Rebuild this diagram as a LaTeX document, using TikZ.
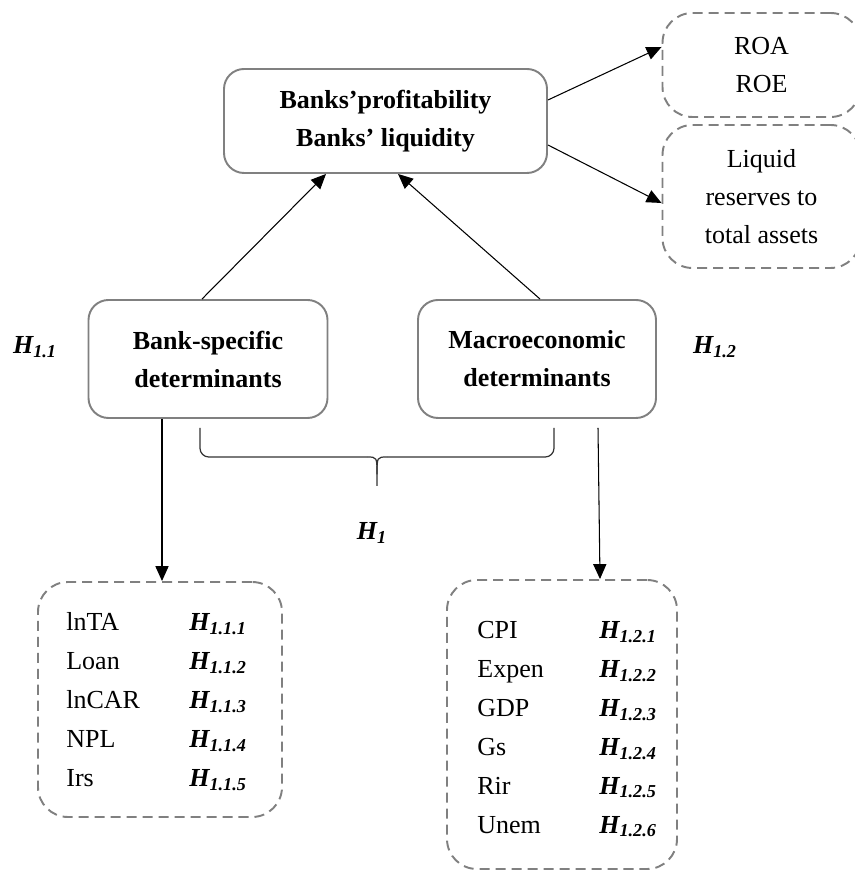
\documentclass[tikz,border=0pt]{standalone}
\usepackage{fontspec}
\setmainfont{Liberation Serif}
\usetikzlibrary{arrows.meta}

\newcommand{\hname}[1]{\textbf{\textit{H\textsubscript{#1}}}}

\tikzset{every node/.style={font=\fontsize{14.8}{21.6}\selectfont, inner sep=0pt}}
\tikzset{solidbox/.style={draw=gray, line width=1.1pt, rounded corners=0.4cm, align=center}}
\tikzset{dashbox/.style={draw=gray, line width=1.1pt, dash pattern=on 5.7pt off 3.4pt, rounded corners=0.6cm, align=center}}
\tikzset{conn/.style={-{Triangle[length=8.5pt,width=7.5pt]}, line width=0.6pt}}

\begin{document}
\begin{tikzpicture}
			\useasboundingbox (0,0) rectangle (17.08,17.44);

			% Top box
			\node[solidbox, minimum width=6.46cm, minimum height=2.08cm] (top) at (7.71,15.02) {\bfseries Banks’profitability\\ \bfseries Banks’ liquidity};

			% Measures on the right
			\node[dashbox, minimum width=3.96cm, minimum height=2.08cm] (roa) at (15.23,16.14) {ROA\\ROE};
			\node[dashbox, minimum width=3.96cm, minimum height=2.86cm] (liq) at (15.23,13.51) {Liquid\\reserves to\\total assets};

			% Determinants
			\node[solidbox, minimum width=4.78cm, minimum height=2.36cm] (bank) at (4.16,10.26) {\bfseries Bank-specific\\ \bfseries determinants};
			\node[solidbox, minimum width=4.76cm, minimum height=2.36cm] (macro) at (10.74,10.26) {\bfseries Macroeconomic\\ \bfseries determinants};

			% Hypothesis labels
			\node[anchor=base] (h11) at (0.70,10.36) {\hname{1.1}};
			\node[anchor=base] (h12) at (14.30,10.36) {\hname{1.2}};
			\node[anchor=base] (h1) at (7.44,6.64) {\hname{1}};

			% Variable boxes
			\node[dashbox, minimum width=4.88cm, minimum height=4.70cm] (lowleft) at (3.20,3.45) {};
			\node[dashbox, minimum width=4.60cm, minimum height=5.78cm] (lowright) at (11.24,2.95) {};

			% Rows of the left box
			\foreach \v/\h [count=\i from 0] in {lnTA/1.1.1, Loan/1.1.2, lnCAR/1.1.3, NPL/1.1.4, Irs/1.1.5}{
				\node[anchor=base west] (bv\i) at (1.32,4.82-0.78*\i) {\v};
				\node[anchor=base west] (bh\i) at (3.78,4.82-0.78*\i) {\hname{\h}};
			}

			% Rows of the right box
			\foreach \v/\h [count=\i from 0] in {CPI/1.2.1, Expen/1.2.2, GDP/1.2.3, Gs/1.2.4, Rir/1.2.5, Unem/1.2.6}{
				\node[anchor=base west] (mv\i) at (9.54,4.66-0.776*\i) {\v};
				\node[anchor=base west] (mh\i) at (11.98,4.66-0.776*\i) {\hname{\h}};
			}

			% Edges up to the top box
			\draw[conn] ([xshift=-0.12cm]bank.north) -- ([xshift=-1.19cm]top.south);
			\draw[conn] ([xshift=0.06cm]macro.north) -- ([xshift=0.25cm]top.south);

			% Edges to the measures
			\draw[conn] ([yshift=0.42cm]top.east) -- ([yshift=0.36cm]roa.west);
			\draw[conn] ([yshift=-0.48cm]top.east) -- ([yshift=-0.13cm]liq.west);

			% Edges down to the variables
			\draw[conn] ([xshift=-0.92cm]bank.south) -- ([xshift=-0.92cm]bank.south |- lowleft.north);
			\draw[conn] ([xshift=1.22cm, yshift=-0.18cm]macro.south) -- ([xshift=0.76cm]lowright.north);

			% Brace under both boxes
			\draw[line width=0.7pt, black!80, rounded corners=5pt] (4.00,8.88) -- (4.00,8.30) -- (7.34,8.30);
			\draw[line width=0.7pt, black!80] (7.34,8.30) .. controls (7.54,8.30) .. (7.54,7.95) -- (7.54,7.72);
			\draw[line width=0.7pt, black!80, rounded corners=5pt] (11.08,8.88) -- (11.08,8.30) -- (7.74,8.30);
			\draw[line width=0.7pt, black!80] (7.74,8.30) .. controls (7.54,8.30) .. (7.54,7.95);
		\end{tikzpicture}
\end{document}
